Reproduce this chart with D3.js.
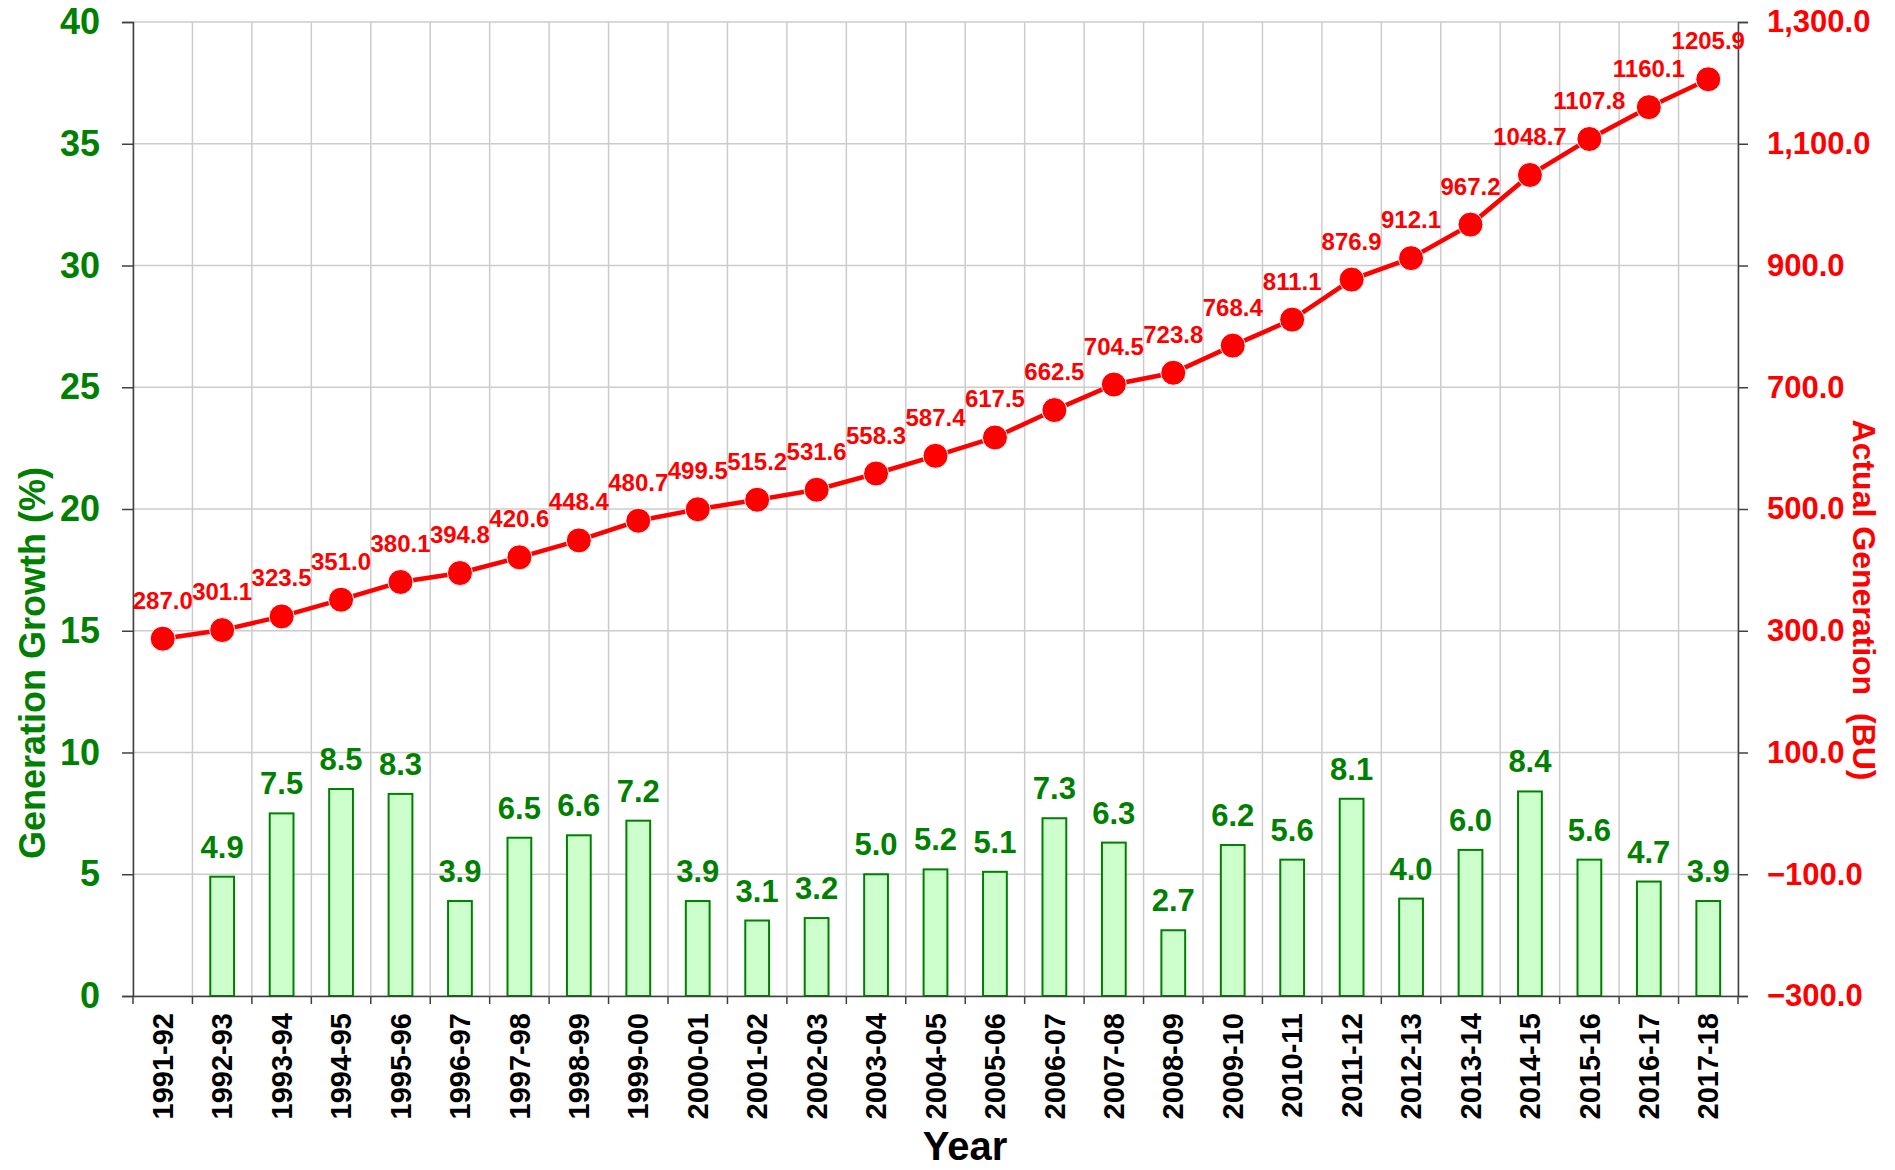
<!DOCTYPE html>
<html><head><meta charset="utf-8">
<script src="https://cdn.jsdelivr.net/npm/d3@7"></script>
<style>
body{margin:0;background:#fff;}
text{font-family:"Liberation Sans",Arial,sans-serif;font-weight:bold;}
</style></head>
<body><svg id="c" width="1895" height="1170"></svg>
<script>
const categories = ["1991-92","1992-93","1993-94","1994-95","1995-96","1996-97","1997-98","1998-99","1999-00","2000-01","2001-02","2002-03","2003-04","2004-05","2005-06","2006-07","2007-08","2008-09","2009-10","2010-11","2011-12","2012-13","2013-14","2014-15","2015-16","2016-17","2017-18"];
const growth = [null,4.9,7.5,8.5,8.3,3.9,6.5,6.6,7.2,3.9,3.1,3.2,5.0,5.2,5.1,7.3,6.3,2.7,6.2,5.6,8.1,4.0,6.0,8.4,5.6,4.7,3.9];
const generation = [287.0,301.1,323.5,351.0,380.1,394.8,420.6,448.4,480.7,499.5,515.2,531.6,558.3,587.4,617.5,662.5,704.5,723.8,768.4,811.1,876.9,912.1,967.2,1048.7,1107.8,1160.1,1205.9];
const leftTicks = [0,5,10,15,20,25,30,35,40];
const rightTicks = [-300,-100,100,300,500,700,900,1100,1300];

const L=133,R=1738,T=22,B=996;
const svg=d3.select("#c");
const x=d3.scaleBand().domain(categories).range([L,R]).padding(0);
const yL=d3.scaleLinear().domain([0,40]).range([B,T]);
const yR=d3.scaleLinear().domain([-300,1300]).range([B,T]);
const green="#008000", red="#ff0000";

// grid
const g=svg.append("g");
g.selectAll(".hg").data(leftTicks).join("line")
 .attr("x1",L).attr("x2",R).attr("y1",d=>yL(d)).attr("y2",d=>yL(d))
 .attr("stroke","#cccccc").attr("stroke-width",1.5);
const bounds=categories.map(c=>x(c)).concat([R]);
g.selectAll(".vg").data(bounds).join("line")
 .attr("x1",d=>d).attr("x2",d=>d).attr("y1",T).attr("y2",B)
 .attr("stroke","#cccccc").attr("stroke-width",1.5);

// bars
const bw=x.bandwidth()*0.4;
const bd=categories.map((c,i)=>({c,v:growth[i]})).filter(d=>d.v!=null);
svg.selectAll(".bar").data(bd).join("rect")
 .attr("x",d=>x(d.c)+x.bandwidth()/2-bw/2).attr("width",bw)
 .attr("y",d=>yL(d.v)).attr("height",d=>B-yL(d.v))
 .attr("fill","#ccffcc").attr("stroke",green).attr("stroke-width",2);
svg.selectAll(".bl").data(bd).join("text")
 .attr("x",d=>x(d.c)+x.bandwidth()/2).attr("y",d=>yL(d.v)-19)
 .attr("text-anchor","middle").attr("fill",green).attr("font-size",31)
 .text(d=>d.v.toFixed(1));

// axes
const axL=d3.axisLeft(yL).tickValues(leftTicks).tickSize(11).tickPadding(22).tickFormat(d3.format("d"));
const gL=svg.append("g").attr("transform",`translate(${L},0)`).call(axL);
gL.selectAll("text").attr("fill",green).attr("font-size",36);
const axR=d3.axisRight(yR).tickValues(rightTicks).tickSize(10).tickPadding(19).tickFormat(d3.format(",.1f"));
const gR=svg.append("g").attr("transform",`translate(${R},0)`).call(axR);
gR.selectAll("text").attr("fill",red).attr("font-size",31);
const axB=d3.axisBottom(x).tickSize(0).tickPadding(0);
const gB=svg.append("g").attr("transform",`translate(0,${B})`).call(axB);
gB.selectAll("text").attr("fill","#000").attr("font-size",29)
 .attr("text-anchor","end").attr("transform","rotate(-90)")
 .attr("x",-17).attr("y",0).attr("dy","0.35em");
// bottom tick marks at boundaries
svg.append("g").selectAll("line").data(bounds).join("line")
 .attr("x1",d=>d).attr("x2",d=>d).attr("y1",B).attr("y2",B+8)
 .attr("stroke","#404040").attr("stroke-width",1.5);
[gL,gR,gB].forEach(a=>{a.selectAll("path,line").attr("stroke","#404040").attr("stroke-width",1.5);a.select(".domain").attr("stroke","#404040");});

// line
const line=d3.line().x((d,i)=>x(categories[i])+x.bandwidth()/2).y(d=>yR(d));
svg.append("path").datum(generation).attr("d",line)
 .attr("fill","none").attr("stroke",red).attr("stroke-width",4.5);
svg.selectAll(".pt").data(generation).join("circle")
 .attr("cx",(d,i)=>x(categories[i])+x.bandwidth()/2).attr("cy",d=>yR(d)).attr("r",12.5)
 .attr("fill",red).attr("stroke","#fff").attr("stroke-width",1);
svg.selectAll(".pl").data(generation).join("text")
 .attr("x",(d,i)=>x(categories[i])+x.bandwidth()/2).attr("y",d=>yR(d)-30)
 .attr("text-anchor","middle").attr("fill",red).attr("font-size",24)
 .text(d=>d.toFixed(1));

// titles
svg.append("text").attr("transform","translate(45,663) rotate(-90)")
 .attr("text-anchor","middle").attr("fill",green).attr("font-size",36)
 .text("Generation Growth (%)");
svg.append("text").attr("transform","translate(1853,600) rotate(90)")
 .attr("text-anchor","middle").attr("fill",red).attr("font-size",32)
 .attr("xml:space","preserve").style("white-space","pre")
 .text("Actual Generation  (BU)");
svg.append("text").attr("x",965).attr("y",1160).attr("text-anchor","middle")
 .attr("fill","#000").attr("font-size",40).text("Year");
</script></body></html>
